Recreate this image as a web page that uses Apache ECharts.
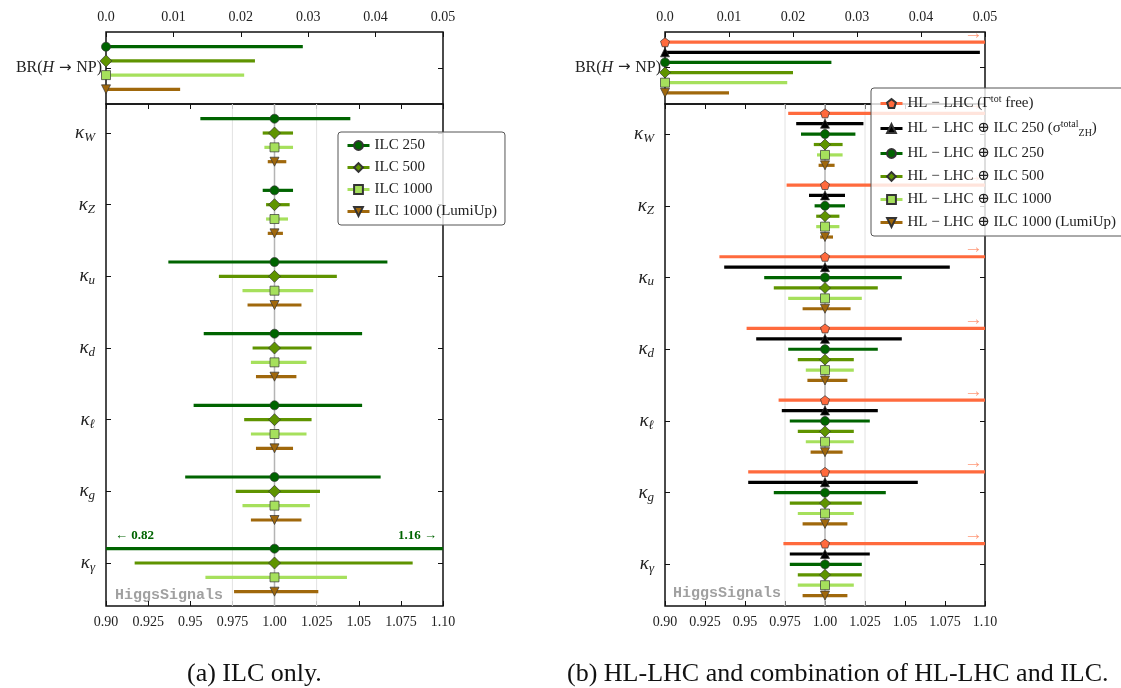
<!DOCTYPE html>
<html><head><meta charset="utf-8">
<script src="https://cdn.jsdelivr.net/npm/echarts@6/dist/echarts.min.js"></script>
<style>html,body{margin:0;padding:0;background:#fff}#c{width:1121px;height:688px}</style>
</head><body><div id="c"></div>
<script>
// ---------------- data ----------------
const rows = ['W', 'Z', 'u', 'd', 'ℓ', 'g', 'γ'];
const xTicksMain = ['0.90', '0.925', '0.95', '0.975', '1.00', '1.025', '1.05', '1.075', '1.10'];
const xTicksBR = ['0.0', '0.01', '0.02', '0.03', '0.04', '0.05'];
const refLines = [0.975, 1.0, 1.025];

// (a) ILC only
const central = [1, 1, 1, 1, 1, 1, 1];
const ilc250Lo = [0.956, 0.993, 0.937, 0.958, 0.952, 0.947, 0.82];
const ilc250Hi = [1.045, 1.011, 1.067, 1.052, 1.052, 1.063, 1.16];
const ilc500Lo = [0.993, 0.995, 0.967, 0.987, 0.982, 0.977, 0.917];
const ilc500Hi = [1.011, 1.009, 1.037, 1.022, 1.022, 1.027, 1.082];
const ilc1000Lo = [0.994, 0.995, 0.981, 0.986, 0.986, 0.981, 0.959];
const ilc1000Hi = [1.011, 1.008, 1.023, 1.019, 1.019, 1.021, 1.043];
const ilcLumiLo = [0.996, 0.996, 0.984, 0.989, 0.989, 0.986, 0.976];
const ilcLumiHi = [1.007, 1.005, 1.016, 1.013, 1.011, 1.016, 1.026];
const brILC = [0.0292, 0.0221, 0.0205, 0.011];

// (b) HL-LHC and combinations
const hlFreeLo = [0.977, 0.976, 0.934, 0.951, 0.971, 0.952, 0.974];
const hlFreeHi = [1.2, 1.2, 1.2, 1.2, 1.2, 1.2, 1.2];
const hlZhLo = [0.982, 0.990, 0.937, 0.957, 0.973, 0.952, 0.978];
const hlZhHi = [1.024, 1.0125, 1.078, 1.048, 1.033, 1.058, 1.028];
const hl250Lo = [0.985, 0.9935, 0.962, 0.977, 0.978, 0.968, 0.978];
const hl250Hi = [1.019, 1.0125, 1.048, 1.033, 1.028, 1.038, 1.023];
const hl500Lo = [0.993, 0.9945, 0.968, 0.983, 0.983, 0.978, 0.983];
const hl500Hi = [1.011, 1.009, 1.033, 1.018, 1.018, 1.023, 1.023];
const hl1000Lo = [0.995, 0.9945, 0.977, 0.988, 0.988, 0.983, 0.983];
const hl1000Hi = [1.011, 1.009, 1.023, 1.018, 1.018, 1.018, 1.018];
const hlLumiLo = [0.996, 0.997, 0.986, 0.989, 0.991, 0.986, 0.986];
const hlLumiHi = [1.006, 1.005, 1.016, 1.014, 1.011, 1.014, 1.014];
const brHL = [0.06, 0.0492, 0.026, 0.020, 0.0191, 0.010];

// ---------------- styling ----------------
const SERIF = '"Liberation Serif", "DejaVu Serif", serif';
const C250 = '#006400', C500 = '#5f9400', C1000 = '#a6e05c', CLUMI = '#a0680c', CORANGE = '#ff6a3d';
const triDown = 'path://M0,0 L10,0 L5,9 Z';
const pent = 'path://M5,0 L10,3.7 L8.1,9.5 L1.9,9.5 L0,3.7 Z';

const leftSets = [
  { name: 'ILC 250', color: C250, symbol: 'circle', size: 9, lo: ilc250Lo, hi: ilc250Hi, br: brILC[0], mode: 'value' },
  { name: 'ILC 500', color: C500, symbol: 'diamond', size: 12, lo: ilc500Lo, hi: ilc500Hi, br: brILC[1], mode: '' },
  { name: 'ILC 1000', color: C1000, symbol: 'rect', size: 9, lo: ilc1000Lo, hi: ilc1000Hi, br: brILC[2], mode: '' },
  { name: 'ILC 1000 (LumiUp)', color: CLUMI, symbol: triDown, size: 9, lo: ilcLumiLo, hi: ilcLumiHi, br: brILC[3], mode: '' }
];
const rightSets = [
  { name: 'HL − LHC (Γtot free)', label: '{t|HL − LHC (Γ}{sup|tot}{t| free)}', color: CORANGE, symbol: pent, size: 9, lo: hlFreeLo, hi: hlFreeHi, br: brHL[0], mode: 'arrow' },
  { name: 'HL − LHC ⊕ ILC 250 (σZH)', label: '{t|HL − LHC ⊕ ILC 250 (σ}{sup|total}{sub|ZH}{t|)}', color: '#000000', symbol: 'triangle', size: 9, lo: hlZhLo, hi: hlZhHi, br: brHL[1], mode: '' },
  { name: 'HL − LHC ⊕ ILC 250', label: '{t|HL − LHC ⊕ ILC 250}', color: C250, symbol: 'circle', size: 9, lo: hl250Lo, hi: hl250Hi, br: brHL[2], mode: '' },
  { name: 'HL − LHC ⊕ ILC 500', label: '{t|HL − LHC ⊕ ILC 500}', color: C500, symbol: 'diamond', size: 11, lo: hl500Lo, hi: hl500Hi, br: brHL[3], mode: '' },
  { name: 'HL − LHC ⊕ ILC 1000', label: '{t|HL − LHC ⊕ ILC 1000}', color: C1000, symbol: 'rect', size: 9, lo: hl1000Lo, hi: hl1000Hi, br: brHL[4], mode: '' },
  { name: 'HL − LHC ⊕ ILC 1000 (LumiUp)', label: '{t|HL − LHC ⊕ ILC 1000 (LumiUp)}', color: CLUMI, symbol: triDown, size: 9, lo: hlLumiLo, hi: hlLumiHi, br: brHL[5], mode: '' }
];

function barRenderer(color, width, mode) {
  return function (params, api) {
    const lo = api.value(0), hi = api.value(1), y = api.value(2);
    const a = api.coord([lo, y]), b = api.coord([hi, y]);
    const cs = params.coordSys;
    const xl = cs.x, xr = cs.x + cs.width;
    const x1 = Math.max(a[0], xl), x2 = Math.min(b[0], xr);
    const children = [{ type: 'line', shape: { x1: x1, y1: a[1], x2: x2, y2: a[1] }, style: { stroke: color, lineWidth: width } }];
    if (mode === 'value') {
      if (a[0] < xl) children.push({ type: 'text', style: { text: '← ' + lo.toFixed(2), x: xl + 9, y: a[1] - 7, fill: color, font: 'bold 13px ' + SERIF, align: 'left', verticalAlign: 'bottom', textAlign: 'left', textVerticalAlign: 'bottom' } });
      if (b[0] > xr) children.push({ type: 'text', style: { text: hi.toFixed(2) + ' →', x: xr - 6, y: a[1] - 7, fill: color, font: 'bold 13px ' + SERIF, align: 'right', verticalAlign: 'bottom', textAlign: 'right', textVerticalAlign: 'bottom' } });
    } else if (mode === 'arrow') {
      if (b[0] > xr) children.push({ type: 'text', style: { text: '→', x: xr - 2, y: a[1] + 1, fill: '#ff9a7a', font: '19px ' + SERIF, align: 'right', verticalAlign: 'bottom', textAlign: 'right', textVerticalAlign: 'bottom' } });
    }
    return { type: 'group', children: children };
  };
}
function refRenderer(params, api) {
  const x = api.value(0);
  const cs = params.coordSys;
  const p = api.coord([x, api.value(1)]);
  const main = Math.abs(x - 1) < 1e-9;
  return { type: 'line', shape: { x1: p[0], y1: cs.y, x2: p[0], y2: cs.y + cs.height }, style: { stroke: main ? '#b4b4b4' : '#e2e2e2', lineWidth: main ? 1.5 : 1 } };
}

const series = [];
function addPanel(sets, xTop, yTop, xMain, yMain, offStep, offBase, topBase) {
  series.push({ type: 'custom', xAxisIndex: xMain, yAxisIndex: yMain, z: 1, silent: true, renderItem: refRenderer,
    data: refLines.map(v => [v, 0]), encode: { x: 0, y: 1 } });
  sets.forEach((s, k) => {
    const off = (k + offBase) * offStep;
    series.push({ type: 'custom', xAxisIndex: xMain, yAxisIndex: yMain, z: 2, silent: true,
      renderItem: barRenderer(s.color, 3.2, s.mode),
      data: rows.map((r, i) => [s.lo[i], s.hi[i], i + off]), encode: { x: [0, 1], y: 2 } });
    series.push({ type: 'custom', xAxisIndex: xTop, yAxisIndex: yTop, z: 2, silent: true,
      renderItem: barRenderer(s.color, 3.2, s.mode === 'arrow' ? 'arrow' : ''),
      data: [[0, s.br, k + topBase]], encode: { x: [0, 1], y: 2 } });
    const common = { type: 'line', name: s.name, symbol: s.symbol, symbolSize: s.size, showSymbol: true,
      itemStyle: { color: s.color, borderColor: '#333', borderWidth: 0.7 }, lineStyle: { width: 0, color: s.color }, z: 3, clip: false, silent: true };
    series.push(Object.assign({}, common, { xAxisIndex: xMain, yAxisIndex: yMain, data: central.map((v, i) => [v, i + off]) }));
    series.push(Object.assign({}, common, { xAxisIndex: xTop, yAxisIndex: yTop, data: [[0, k + topBase]] }));
  });
}
addPanel(leftSets, 0, 0, 1, 2, 0.2, -1, -1.5);
addPanel(rightSets, 3, 4, 4, 6, 0.145, -2, -2.5);

const tickStyle = { inside: true, length: 5, lineStyle: { color: '#111', width: 1 } };
const noLine = { show: false, onZero: false };
const labelMain = { fontFamily: SERIF, fontSize: 14, color: '#222', margin: 9, formatter: v => xTicksMain[Math.round((v - 0.9) / 0.025)] };
const labelBR = { fontFamily: SERIF, fontSize: 14, color: '#222', margin: 8, formatter: v => xTicksBR[Math.round(v / 0.01)] };
function xBR(grid) { return { type: 'value', gridIndex: grid, position: 'top', min: 0, max: 0.05, interval: 0.01, axisLine: noLine, axisTick: tickStyle, axisLabel: labelBR, splitLine: { show: false } }; }
function xMainB(grid) { return { type: 'value', gridIndex: grid, position: 'bottom', min: 0.9, max: 1.1, interval: 0.025, axisLine: noLine, axisTick: tickStyle, axisLabel: labelMain, splitLine: { show: false } }; }
function xMainT(grid) { return { type: 'value', gridIndex: grid, position: 'top', min: 0.9, max: 1.1, interval: 0.025, axisLine: noLine, axisTick: tickStyle, axisLabel: { show: false }, splitLine: { show: false } }; }
const rowIdx = rows.map((r, i) => i);
function yMain(grid, pos, min, max, labels) {
  return { type: 'value', gridIndex: grid, position: pos, min: min, max: max, inverse: true, axisLine: noLine,
    axisTick: Object.assign({ customValues: rowIdx }, tickStyle), splitLine: { show: false },
    axisLabel: labels ? { customValues: rowIdx, margin: 11, formatter: v => '{k|κ}{s|' + rows[Math.round(v)] + '}',
      rich: { k: { fontFamily: SERIF, fontStyle: 'italic', fontSize: 19, color: '#222' }, s: { fontFamily: SERIF, fontStyle: 'italic', fontSize: 13, color: '#222', padding: [9, 0, 0, 0] } } } : { show: false } };
}
function yBR(grid, pos, min, max, labels) {
  return { type: 'value', gridIndex: grid, position: pos, min: min, max: max, inverse: true, axisLine: noLine,
    axisTick: Object.assign({ customValues: [0] }, tickStyle), splitLine: { show: false },
    axisLabel: labels ? { customValues: [0], margin: 4, formatter: () => '{r|BR(}{i|H}{a| → }{r|NP)}',
      rich: { r: { fontFamily: SERIF, fontSize: 16, color: '#222' }, i: { fontFamily: SERIF, fontStyle: 'italic', fontSize: 16, color: '#222' },
        a: { fontFamily: '"DejaVu Sans"', fontSize: 15, color: '#222' } } } : { show: false } };
}

const legendBase = { orient: 'vertical', itemWidth: 22, itemHeight: 11, backgroundColor: 'rgba(255,255,255,0.82)', borderColor: '#555', borderWidth: 1, borderRadius: 3,
  lineStyle: { width: 3, opacity: 1 }, selectedMode: false, textStyle: { fontFamily: SERIF, fontSize: 15, color: '#222' } };

const option = {
  backgroundColor: '#fff',
  animation: false,
  grid: [
    { left: 106, top: 32, width: 337, height: 72, show: true, borderColor: '#111', borderWidth: 1.5 },
    { left: 106, top: 104, width: 337, height: 502, show: true, borderColor: '#111', borderWidth: 1.5 },
    { left: 665, top: 32, width: 320, height: 72, show: true, borderColor: '#111', borderWidth: 1.5 },
    { left: 665, top: 104, width: 320, height: 502, show: true, borderColor: '#111', borderWidth: 1.5 }
  ],
  xAxis: [xBR(0), xMainB(1), xMainT(1), xBR(2), xMainB(3), xMainT(3)],
  yAxis: [
    yBR(0, 'left', -2.535, 2.535, true), yBR(0, 'right', -2.535, 2.535, false),
    yMain(1, 'left', -0.405, 6.6, true), yMain(1, 'right', -0.405, 6.6, false),
    yBR(2, 'left', -3.51, 3.61, true), yBR(2, 'right', -3.51, 3.61, false),
    yMain(3, 'left', -0.42, 6.58, true), yMain(3, 'right', -0.42, 6.58, false)
  ],
  legend: [
    Object.assign({}, legendBase, { left: 338, top: 132, padding: [6, 8, 6, 8], itemGap: 7, data: leftSets.map(s => s.name) }),
    Object.assign({}, legendBase, { left: 871, top: 88, padding: [6, 8, 6, 8], itemGap: 8, data: rightSets.map(s => s.name),
      formatter: n => rightSets.find(s => s.name === n).label,
      textStyle: { fontFamily: SERIF, fontSize: 15, color: '#222', rich: {
        t: { fontFamily: SERIF, fontSize: 15, color: '#222' },
        sup: { fontFamily: SERIF, fontSize: 10, color: '#222', padding: [0, 0, 9, 0] },
        sub: { fontFamily: SERIF, fontSize: 10, color: '#222', padding: [9, 0, 0, 0] } } } })
  ],
  graphic: [
    { type: 'text', left: 115, top: 588, style: { text: 'HiggsSignals', font: 'bold 15px "Liberation Mono", monospace', fill: '#a0a0a0' } },
    { type: 'text', left: 673, top: 586, style: { text: 'HiggsSignals', font: 'bold 15px "Liberation Mono", monospace', fill: '#a0a0a0' } },
    { type: 'text', left: 187, top: 661, style: { text: '(a) ILC only.', font: '26px ' + SERIF, fill: '#111' } },
    { type: 'text', left: 567, top: 661, style: { text: '(b) HL-LHC and combination of HL-LHC and ILC.', font: '26px ' + SERIF, fill: '#111' } }
  ],
  series: series
};
const chart = echarts.init(document.getElementById('c'), null, { renderer: 'canvas' });
chart.setOption(option);
</script></body></html>
